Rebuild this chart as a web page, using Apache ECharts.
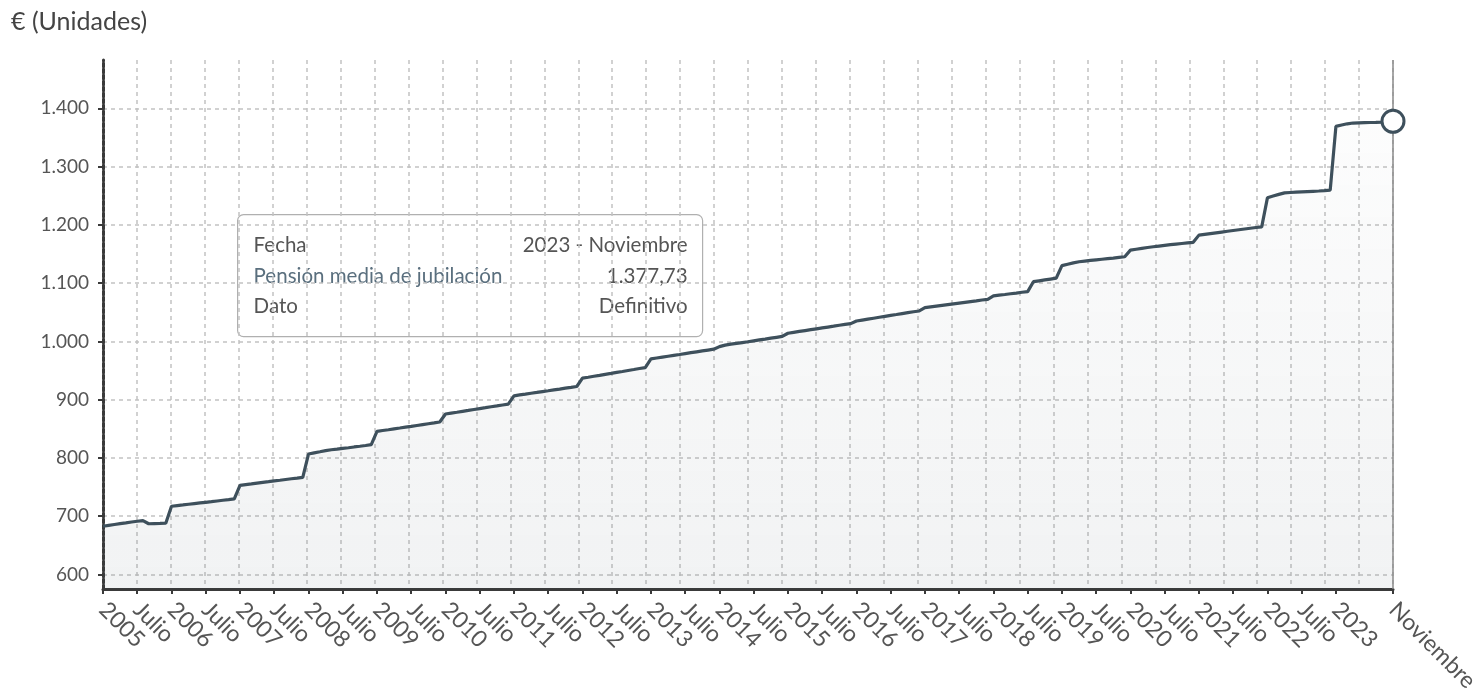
<!DOCTYPE html>
<html>
<head>
<meta charset="utf-8">
<script src="https://cdn.jsdelivr.net/npm/echarts@6/dist/echarts.min.js"></script>
<style>
  html, body { margin: 0; padding: 0; background: #ffffff; }
  #chart { width: 1475px; height: 699px; }
</style>
</head>
<body>
<div id="chart"></div>
<script>
// Pensión media de jubilación (€), serie mensual desde enero de 2005
const startYear = 2005;
const v2005 = [682.7, 684.2, 685.7, 687.1, 688.5, 690.0, 691.3, 692.4, 687.0, 687.3, 687.6, 688.0];
const v2006 = [717.0, 718.2, 719.3, 720.5, 721.6, 722.7, 723.8, 724.9, 726.1, 727.3, 728.4, 729.6];
const v2007 = [753.0, 754.3, 755.5, 756.8, 758.0, 759.2, 760.5, 761.7, 763.0, 764.2, 765.4, 766.7];
const v2008 = [806.7, 808.6, 810.5, 812.5, 814.0, 815.0, 816.3, 817.5, 818.8, 820.0, 821.3, 822.7];
const v2009 = [845.5, 847.0, 848.4, 849.9, 851.3, 852.8, 854.2, 855.7, 857.2, 858.7, 860.1, 861.6];
const v2010 = [875.3, 876.9, 878.4, 880.0, 881.5, 883.1, 884.7, 886.2, 887.8, 889.3, 890.9, 892.4];
const v2011 = [906.6, 908.1, 909.5, 911.0, 912.4, 913.9, 915.3, 916.8, 918.2, 919.7, 921.1, 922.6];
const v2012 = [936.9, 938.5, 940.2, 941.8, 943.5, 945.1, 946.8, 948.4, 950.1, 951.7, 953.4, 955.0];
const v2013 = [970.0, 971.5, 973.0, 974.5, 976.0, 977.5, 979.1, 980.6, 982.1, 983.6, 985.1, 986.6];
const v2014 = [991.0, 993.6, 995.2, 996.6, 998.0, 999.4, 1001.0, 1002.6, 1004.0, 1005.5, 1007.0, 1008.5];
const v2015 = [1014.0, 1015.6, 1017.1, 1018.6, 1020.1, 1021.6, 1023.1, 1024.6, 1026.1, 1027.7, 1029.3, 1030.5];
const v2016 = [1035.0, 1036.6, 1038.2, 1039.8, 1041.4, 1043.0, 1044.6, 1046.1, 1047.7, 1049.3, 1050.9, 1052.2];
const v2017 = [1057.9, 1059.2, 1060.5, 1061.8, 1063.1, 1064.4, 1065.7, 1067.0, 1068.3, 1069.6, 1071.0, 1072.2];
const v2018 = [1078.0, 1079.3, 1080.5, 1081.8, 1083.0, 1084.3, 1085.5, 1102.5, 1104.0, 1105.5, 1107.0, 1108.5];
const v2019 = [1130.0, 1132.5, 1134.8, 1136.7, 1137.9, 1139.0, 1140.0, 1141.0, 1142.0, 1143.0, 1144.2, 1145.3];
const v2020 = [1156.7, 1158.2, 1159.7, 1161.1, 1162.4, 1163.6, 1164.8, 1166.0, 1167.0, 1168.0, 1169.0, 1170.0];
const v2021 = [1182.4, 1183.8, 1185.1, 1186.4, 1187.7, 1189.0, 1190.3, 1191.6, 1192.9, 1194.2, 1195.5, 1196.6];
const v2022 = [1246.4, 1249.5, 1252.3, 1255.0, 1255.6, 1256.1, 1256.6, 1257.1, 1257.6, 1258.1, 1258.7, 1259.5];
const v2023 = [1369.0, 1371.5, 1373.5, 1374.8, 1375.1, 1375.4, 1375.7, 1376.0, 1376.5, 1377.1, 1377.73];

const monthNames = ['Enero', 'Febrero', 'Marzo', 'Abril', 'Mayo', 'Junio', 'Julio',
  'Agosto', 'Septiembre', 'Octubre', 'Noviembre', 'Diciembre'];

// Etiquetas del eje X: cada seis meses, y el último mes disponible
const xTickLabels = ['2005', 'Julio', '2006', 'Julio', '2007', 'Julio', '2008', 'Julio',
  '2009', 'Julio', '2010', 'Julio', '2011', 'Julio', '2012', 'Julio', '2013', 'Julio',
  '2014', 'Julio', '2015', 'Julio', '2016', 'Julio', '2017', 'Julio', '2018', 'Julio',
  '2019', 'Julio', '2020', 'Julio', '2021', 'Julio', '2022', 'Julio', '2023', 'Noviembre'];
const yTicks = [600, 700, 800, 900, 1000, 1100, 1200, 1300, 1400];

const values = [].concat(v2005, v2006, v2007, v2008, v2009, v2010, v2011, v2012, v2013,
  v2014, v2015, v2016, v2017, v2018, v2019, v2020, v2021, v2022, v2023);
const seriesData = values.map((v, i) => [i, v]);
const lastIdx = values.length - 1;

// posiciones (en meses) de las marcas del eje X
const xTickMonths = xTickLabels.map((_, i) => (i === xTickLabels.length - 1 ? lastIdx : i * 6));
const labelByMonth = {};
xTickMonths.forEach((m, i) => { labelByMonth[m] = xTickLabels[i]; });

function fmtEs(v, decimals) {
  const parts = v.toFixed(decimals).split('.');
  const int = parts[0].replace(/\B(?=(\d{3})+(?!\d))/g, '.');
  return parts.length > 1 ? int + ',' + parts[1] : int;
}

const FONT = 'Lato, "Source Sans Pro", "Noto Sans", sans-serif';
const LINE = '#3e505c';

const chart = echarts.init(document.getElementById('chart'), null, { renderer: 'canvas' });

const lastYear = startYear + Math.floor(lastIdx / 12);
const lastMonth = monthNames[lastIdx % 12];

const tipX = 237, tipY = 214, tipW = 465, tipH = 122;
const tipRows = [
  ['Fecha', lastYear + ' - ' + lastMonth, '#555555'],
  ['Pensión media de jubilación', fmtEs(values[lastIdx], 2), '#5a6f7e'],
  ['Dato', 'Definitivo', '#555555']
];

const option = {
  animation: false,
  grid: { left: 103, right: 82, top: 60, bottom: 110, containLabel: false, outerBoundsMode: 'none' },
  xAxis: [
    {
      type: 'value', min: 0, max: lastIdx,
      axisLine: { show: true, lineStyle: { color: '#3a3a3a', width: 3 } },
      axisTick: { show: true, customValues: xTickMonths, length: 5, lineStyle: { color: '#3a3a3a', width: 2 } },
      axisLabel: {
        customValues: xTickMonths, rotate: -45, margin: 17,
        fontSize: 23, color: '#555555', fontFamily: FONT,
        formatter: v => labelByMonth[Math.round(v)] || ''
      },
      splitLine: { show: false }
    },
    {
      type: 'value', min: 0, max: 38, interval: 1, position: 'bottom',
      axisLine: { show: false }, axisTick: { show: false }, axisLabel: { show: false },
      splitLine: { show: true, lineStyle: { color: '#c2c2c2', width: 1.5, type: [4, 4] } }
    }
  ],
  yAxis: {
    type: 'value', min: 575, max: 1483,
    axisLine: { show: true, lineStyle: { color: '#3a3a3a', width: 3, type: [4, 2] } },
    axisTick: { show: true, customValues: yTicks, length: 5, lineStyle: { color: '#3a3a3a', width: 2 } },
    axisLabel: {
      customValues: yTicks, margin: 14, fontSize: 19, color: '#555555', fontFamily: FONT,
      formatter: v => fmtEs(v, 0)
    },
    splitLine: { show: true, lineStyle: { color: '#c2c2c2', width: 1.5, type: [4, 4] } }
  },
  series: [
    {
      type: 'line', xAxisIndex: 0, data: seriesData, showSymbol: false, z: 3,
      lineStyle: { color: LINE, width: 3.2 },
      areaStyle: {
        origin: 'start',
        color: new echarts.graphic.LinearGradient(0, 0, 0, 1, [
          { offset: 0, color: 'rgba(62,80,92,0.02)' },
          { offset: 1, color: 'rgba(62,80,92,0.10)' }
        ])
      },
      markLine: {
        silent: true, symbol: 'none', label: { show: false },
        lineStyle: { color: '#8a8a8a', width: 1.5, type: 'solid' },
        data: [{ xAxis: lastIdx }]
      }
    },
    {
      type: 'scatter', xAxisIndex: 0, z: 5,
      data: [[lastIdx, values[lastIdx]]],
      symbol: 'circle', symbolSize: 22,
      itemStyle: { color: '#ffffff', borderColor: LINE, borderWidth: 3, opacity: 1 }
    }
  ],
  graphic: [
    {
      type: 'text', left: 11, top: 9,
      style: { text: '€ (Unidades)', fontSize: 25, fill: '#444444', fontFamily: FONT }
    },
    {
      type: 'group', left: tipX, top: tipY, z: 100,
      children: [
        {
          type: 'rect', shape: { x: 0, y: 0, width: tipW, height: tipH, r: 6 },
          style: { fill: 'rgba(255,255,255,0.94)', stroke: '#b0b0b0', lineWidth: 1.2 }
        }
      ].concat(tipRows.flatMap((row, i) => [
        {
          type: 'text', x: 16, y: 31 + i * 30.5,
          style: { text: row[0], fontSize: 20.5, fill: row[2], fontFamily: FONT, verticalAlign: 'middle', align: 'left' }
        },
        {
          type: 'text', x: tipW - 15, y: 31 + i * 30.5,
          style: { text: row[1], fontSize: 20.5, fill: '#555555', fontFamily: FONT, verticalAlign: 'middle', align: 'right' }
        }
      ]))
    }
  ]
};

chart.setOption(option);
</script>
</body>
</html>
